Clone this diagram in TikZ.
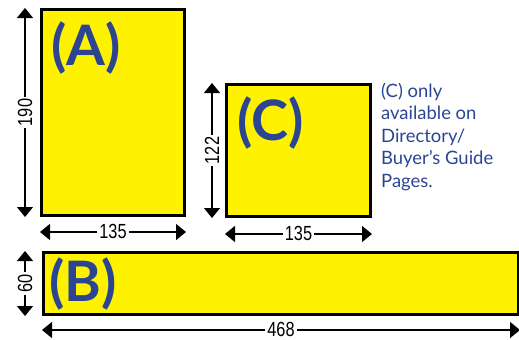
\documentclass[tikz,border=0pt]{standalone}
\usepackage{fontspec}
\setmainfont{Lato}
\newfontfamily\dimfont[FakeStretch=0.8]{Liberation Sans}
\usetikzlibrary{arrows.meta}
\definecolor{adyellow}{HTML}{FFF200}
\definecolor{adblue}{HTML}{2B4593}
\tikzset{
  adbox/.style={draw=black, line width=3bp, fill=adyellow, inner sep=0pt, anchor=north west},
  adlabel/.style={text=adblue, font=\bfseries\fontsize{56}{56}\selectfont, inner sep=0pt, anchor=base west},
  dimline/.style={line width=1.3bp, {Triangle[length=10bp,width=16bp]}-{Triangle[length=10bp,width=16bp]}},
  dimtext/.style={fill=white, inner xsep=2bp, inner ysep=0pt, font=\dimfont\fontsize{20.5}{20.5}\selectfont},
}
\begin{document}
\begin{tikzpicture}[x=1bp,y=1bp]
\useasboundingbox (0,0) rectangle (519,339);
% boxes
\node[adbox, minimum width=143bp, minimum height=206bp] (A) at (40,331) {};
\node[adbox, minimum width=144bp, minimum height=132bp] (C) at (225,256) {};
\node[adbox, minimum width=475bp, minimum height=62bp] (B) at (42,88) {};
% labels
\node[adlabel] (la) at (51,274) {(A)};
\node[adlabel] (lc) at (237,199) {(C)};
\node[adlabel] (lb) at (49,38) {(B)};
% side note
\node[text=adblue, font=\fontsize{18.5}{22.5}\selectfont, align=left, anchor=north west, inner sep=0pt] (note) at (381,256)
  {(C) only\\available on\\Directory/\\Buyer’s Guide\\Pages.};
% dimensions
\draw[dimline] ([xshift=-15bp]A.north west) -- ([xshift=-15bp]A.south west)
  node[dimtext, midway, rotate=90] (d190) {190};
\draw[dimline] ([yshift=-15bp]A.south west) -- ([yshift=-15bp]A.south east)
  node[dimtext, midway, yshift=1bp] (d135a) {135};
\draw[dimline] ([xshift=-13bp]C.north west) -- ([xshift=-13bp]C.south west)
  node[dimtext, midway, rotate=90] (d122) {122};
\draw[dimline] ([yshift=-16bp]C.south west) -- ([yshift=-16bp]C.south east)
  node[dimtext, midway, yshift=1bp] (d135c) {135};
\draw[dimline] ([xshift=-17bp]B.north west) -- ([xshift=-17bp]B.south west)
  node[dimtext, midway, rotate=90] (d60) {60};
\draw[dimline] ([yshift=-14bp]B.south west) -- ([yshift=-14bp]B.south east)
  node[dimtext, midway, yshift=1bp] (d468) {468};
\end{tikzpicture}
\end{document}
